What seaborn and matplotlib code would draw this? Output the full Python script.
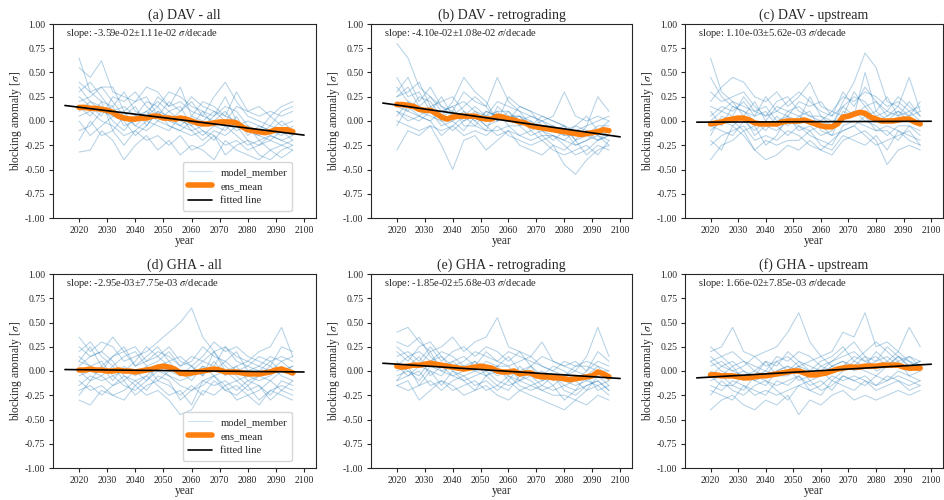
import numpy as np
import pandas as pd
import matplotlib
matplotlib.use("Agg")
import matplotlib.pyplot as plt
from matplotlib.lines import Line2D
import seaborn as sns

# ---------------------------------------------------------------------------
# Data
# ---------------------------------------------------------------------------
titles = ["(a) DAV - all", "(b) DAV - retrograding", "(c) DAV - upstream",
          "(d) GHA - all", "(e) GHA - retrograding", "(f) GHA - upstream"]

slopes = [-3.59e-02, -4.10e-02, 1.10e-03, -2.95e-03, -1.85e-02, 1.66e-02]
slope_errs = [1.11e-02, 1.08e-02, 5.62e-03, 7.75e-03, 5.68e-03, 7.85e-03]
fit_at_2015 = [0.160, 0.185, -0.012, 0.015, 0.080, -0.071]
fit_years = [2015, 2100]

member_years = list(range(2020, 2097, 4))
mean_years = list(range(2020, 2097, 2))

dav_all_mean = [.14, .14, .13, .13, .12, .11, .09, .05, .03, .02, .02, .03, .03, .05, .05, .03,
                .03, .02, .03, .02, .00, -.02, -.03, -.03, -.02, -.01, -.01, -.01, -.02, -.06,
                -.09, -.10, -.11, -.12, -.11, -.09, -.09, -.09, -.11]
dav_retro_mean = [.17, .17, .16, .15, .12, .11, .11, .08, .04, .02, .04, .05, .05, .05, .05, .03,
                  .02, .02, .05, .04, .02, .01, -.01, -.02, -.05, -.06, -.07, -.08, -.09, -.10,
                  -.11, -.12, -.13, -.14, -.13, -.12, -.11, -.09, -.10]
dav_up_mean = [-.03, -.02, -.01, .01, .02, .03, .03, .01, -.02, -.03, -.03, -.03, -.03, -.01, .00,
               .00, .00, .01, -.01, -.03, -.05, -.06, -.06, -.03, .04, .05, .07, .09, .08, .04,
               .02, .00, .00, .00, .01, .02, .02, -.01, -.03]
gha_all_mean = [.01, .01, .02, .01, .01, .00, .00, .01, .00, .00, -.01, .00, .01, .02, .04, .05,
                .04, .02, -.02, -.03, -.02, -.01, .00, .01, .02, .01, -.01, -.01, -.01, -.02,
                -.03, -.03, -.03, -.02, -.01, .01, .02, .00, -.02]
gha_retro_mean = [.05, .04, .05, .06, .06, .07, .08, .07, .06, .05, .04, .03, .02, .03, .04, .05,
                  .04, .03, .00, -.01, -.01, .00, -.03, -.02, -.02, -.05, -.06, -.06, -.07, -.07,
                  -.08, -.09, -.08, -.07, -.06, -.05, -.01, -.03, -.06]
gha_up_mean = [-.04, -.04, -.05, -.05, -.05, -.06, -.07, -.07, -.06, -.05, -.05, -.04, -.03, -.02,
               -.01, .00, .00, -.02, -.04, -.04, -.03, -.02, .00, .02, .03, .04, .04, .04, .05,
               .05, .05, .06, .06, .06, .06, .04, .03, .03, .03]

dav_all_members = [
    [.55, .45, .62, .30, .25, .20, .35, .30, .15, .20, .10, .05, .25, .40, .20, .05, .00, -.05, .10, .15],
    [-.32, -.30, -.10, -.20, -.40, -.25, -.15, -.30, -.20, -.35, -.25, -.30, -.40, -.20, -.30, -.35, -.40, -.30, -.38, -.30],
    [.30, .40, .25, .10, .15, .05, .20, .15, .30, .25, .15, .10, .05, .15, .10, -.05, -.10, .05, -.05, .00],
    [.05, .10, .00, -.05, -.15, -.10, .00, -.05, -.10, .05, -.10, -.20, -.10, -.15, -.05, -.20, -.25, -.15, -.20, -.25],
    [.20, .25, .35, .20, .05, .15, -.05, .10, .05, -.05, .05, .00, .10, .05, .00, -.10, -.15, -.20, -.10, -.15],
    [.65, .30, .20, .15, -.05, .00, .10, .20, .10, .00, -.05, .10, -.05, -.10, .05, -.15, -.05, -.10, -.15, -.05],
    [-.10, -.05, .10, .05, .10, -.05, -.10, .00, -.05, -.10, -.15, -.10, -.20, -.05, -.15, -.25, -.20, -.30, -.25, -.20],
    [.25, .15, .05, .25, .20, .30, .15, .05, .00, .10, .20, .05, .00, .10, -.05, .00, -.05, -.10, .00, -.10],
    [.10, .20, .15, .00, -.10, .05, .10, .00, .10, .15, -.05, -.15, -.05, .00, -.10, -.05, -.20, -.15, -.20, -.15],
    [.00, -.15, -.05, .05, .00, -.15, -.05, .10, -.05, -.10, .00, -.10, -.15, -.25, -.20, -.30, -.25, -.20, -.25, -.30],
    [.40, .30, .35, .35, .10, .20, .25, .05, .20, .10, .25, .15, .10, .00, .15, .10, .05, .10, .05, .10],
    [.15, .05, .20, -.10, .05, -.05, .05, .15, .00, -.05, -.10, -.05, .05, .25, .00, -.10, -.15, -.05, -.10, -.20],
    [-.20, .00, -.15, -.10, -.25, -.10, -.20, -.15, -.25, -.15, -.30, -.25, -.15, -.35, -.25, -.20, -.35, -.40, -.30, -.25],
    [.35, .20, .10, .15, .30, .10, .05, .25, .15, .35, .05, .20, .15, .05, .30, .10, .15, .05, .15, .20],
]
dav_retro_members = [
    [.80, .65, .35, .25, .10, .15, .20, .10, .05, .20, .15, .10, -.05, .05, .00, -.05, -.10, -.05, .00, .05],
    [-.30, -.10, -.15, -.05, -.25, -.50, -.20, -.15, -.30, -.20, -.10, -.25, -.30, -.35, -.25, -.45, -.55, -.40, -.30, -.25],
    [.30, .45, .20, .35, .15, .10, .30, .20, .15, .45, .20, .10, .05, .00, -.10, -.05, -.20, -.15, -.20, -.10],
    [.10, .05, .00, .10, -.05, .00, -.10, .05, -.05, -.15, -.10, -.15, -.20, -.15, -.25, -.30, -.20, -.35, -.25, -.30],
    [.25, .30, .40, .15, .20, .25, .10, .00, .10, .05, .00, .15, .10, -.05, -.05, -.15, -.05, -.10, -.15, -.20],
    [.05, .20, .10, .05, .00, -.10, .00, .10, .00, .10, -.05, -.05, -.15, -.10, -.20, -.10, -.25, -.20, -.10, -.15],
    [.15, .10, .25, .20, .05, .20, .45, .30, .20, .00, .10, .00, .05, .00, .05, .30, .05, .00, .05, .00],
    [.00, -.05, -.10, -.05, -.10, -.05, -.15, -.10, -.15, -.05, -.15, -.20, -.25, -.20, -.30, -.35, -.30, -.25, -.35, -.20],
    [.35, .20, .15, .25, .15, .05, .05, .15, .05, .10, .10, -.05, .00, -.10, -.15, -.20, -.10, -.15, -.05, -.05],
    [.20, .10, .05, .00, .10, .15, -.05, -.05, .10, .05, .00, .05, -.10, -.05, -.10, -.15, -.15, -.10, -.20, -.15],
    [-.05, .15, .05, .15, .00, .00, .10, .00, -.10, .15, .05, .05, .00, -.15, -.15, -.20, -.25, -.20, -.15, -.25],
    [.45, .25, .30, .10, .05, .10, .00, .05, -.05, .00, .25, .15, .10, .05, .00, -.05, -.20, -.05, .25, .10],
    [.10, .00, .05, .00, -.15, -.05, .05, -.05, -.10, -.10, -.05, -.15, -.10, -.20, -.15, -.25, -.35, -.30, -.20, -.15],
    [.25, .35, .15, .10, .25, .05, .15, .25, .15, .00, .05, .05, -.05, .00, -.05, -.10, -.05, .05, -.10, .00],
]
dav_up_members = [
    [.65, .30, .20, .15, .10, .05, .20, .25, .10, .05, .00, -.05, .20, .40, .70, .55, .20, .15, .45, .10],
    [-.40, -.25, -.20, -.10, -.30, -.40, -.35, -.25, -.30, -.20, -.30, -.35, -.20, -.15, -.10, -.20, -.45, -.30, -.25, -.30],
    [.20, .35, .45, .40, .25, .20, .30, .15, .25, .40, .15, .10, .25, .20, .30, .25, .15, .20, .10, .15],
    [-.10, .00, -.05, .05, -.15, -.05, -.10, .00, -.05, -.15, -.20, -.25, -.05, .00, -.05, -.10, -.05, -.10, -.15, -.20],
    [.05, .15, .10, .20, .05, .10, -.05, .10, .15, .05, .05, -.05, .15, .25, .20, .05, .10, .05, .20, .05],
    [-.25, -.15, -.10, -.05, -.20, -.15, -.20, -.10, -.15, -.25, -.30, -.20, -.10, -.05, -.15, -.25, -.20, -.15, -.10, -.25],
    [.10, -.05, .15, .10, .00, -.10, .05, -.05, .05, .10, -.10, -.15, .10, .05, .15, .00, .05, .10, .00, -.05],
    [-.15, .05, .00, -.10, -.05, -.25, -.15, .05, -.10, -.05, -.15, -.10, .05, .10, .00, -.05, -.15, -.05, -.05, -.10],
    [.30, .20, .25, .30, .15, .05, .10, .20, .30, .20, .10, .05, .30, .15, .35, .20, .10, .25, .15, .05],
    [-.05, -.10, -.15, .00, -.10, .00, -.05, -.15, -.05, -.10, -.05, -.15, -.10, -.05, .05, -.10, -.10, -.20, -.05, -.15],
    [.15, .10, .05, .25, .10, .15, .00, .05, .00, .25, .05, .00, .00, .10, .05, .10, .25, .05, .10, .00],
    [-.20, -.30, -.05, -.15, -.30, -.20, -.25, -.20, -.20, -.10, -.25, -.30, -.15, -.20, -.25, -.15, -.30, -.10, -.20, -.25],
    [.00, .10, .20, .05, .20, .00, .15, .10, .05, .00, .00, .10, .05, .30, .15, .20, .05, .15, .05, .10],
    [.45, .25, .15, .10, .05, .25, .10, .05, .20, .15, .20, .05, .15, .05, .50, .10, .00, .10, .05, .20],
]
gha_all_members = [
    [.35, .20, .30, .25, .10, .15, .20, .30, .40, .50, .65, .35, .20, .25, .15, .10, .20, .25, .45, .15],
    [-.30, -.35, -.20, -.25, -.30, -.15, -.25, -.20, -.30, -.45, -.40, -.20, -.25, -.15, -.30, -.25, -.35, -.20, -.25, -.30],
    [.10, .25, .05, .15, .20, .05, .10, .20, .15, .05, .10, .25, .15, .10, .00, .05, .15, .10, .00, .05],
    [-.15, -.05, -.10, -.05, -.15, -.20, -.10, .00, -.05, -.15, -.20, -.10, -.05, -.15, -.10, -.20, -.15, -.25, -.10, -.15],
    [.25, .15, .20, .35, .20, .25, .10, .15, .25, .10, .05, .15, .30, .20, .25, .15, .10, .05, .25, .20],
    [.00, -.10, .05, -.10, .05, -.05, .05, -.10, .00, -.05, .05, -.05, .10, -.05, .05, -.10, -.05, .05, -.05, -.10],
    [-.20, -.15, -.25, -.15, -.10, -.25, -.15, -.10, -.15, -.25, -.15, -.25, -.10, -.20, -.25, -.15, -.30, -.20, -.15, -.20],
    [.15, .05, .10, -.05, .00, .10, .25, .15, .05, .00, -.10, .05, .00, .10, .20, .00, .05, .15, .10, .00],
    [.05, .15, .20, .10, -.05, -.10, -.05, .05, .10, .15, .05, -.05, .20, .05, -.05, -.15, -.05, -.10, .00, .05],
    [-.10, -.20, -.15, -.25, -.20, -.10, -.20, -.05, -.10, -.30, -.20, -.15, -.05, -.20, -.15, -.25, -.20, -.10, -.20, -.25],
    [.20, .30, .15, .05, .15, .20, .05, .10, .20, .05, .15, .10, .05, .25, .10, .05, .00, .10, .15, .10],
    [-.05, .00, -.05, .05, -.10, .00, -.10, .05, -.05, -.10, -.05, .05, -.05, .00, -.10, -.05, -.10, -.05, .05, -.05],
    [.10, .05, .00, .15, .25, .05, .15, .25, .10, -.05, .00, .10, .20, .00, .05, .10, .05, .00, .10, .15],
    [-.25, -.10, -.05, -.15, -.05, -.15, -.05, -.15, -.25, -.20, -.35, -.10, -.15, -.10, -.20, -.10, -.15, -.30, -.20, -.10],
]
gha_retro_members = [
    [.40, .45, .30, .20, .25, .35, .20, .30, .35, .55, .25, .20, .15, .30, .10, .05, .00, .15, .45, .15],
    [-.15, -.10, -.30, -.20, -.10, -.15, -.25, -.20, -.15, -.25, -.30, -.20, -.25, -.30, -.35, -.40, -.30, -.35, -.25, -.30],
    [.20, .10, .25, .30, .15, .05, .10, .20, .15, .10, .05, .10, .15, .05, .00, -.05, .05, .10, .05, .00],
    [-.05, .00, -.10, .05, .00, -.05, -.10, -.05, .00, -.10, -.15, -.10, -.05, -.15, -.20, -.15, -.20, -.15, -.10, -.20],
    [.25, .15, .20, .10, .20, .15, .05, .00, .10, .05, .15, .00, .05, -.05, .05, .00, -.10, .00, .10, .05],
    [.05, -.05, .05, .00, -.05, .10, .00, .10, -.05, .00, -.05, -.10, -.15, -.10, -.05, -.15, -.10, -.20, -.05, -.15],
    [-.15, -.20, -.15, -.10, -.20, -.10, -.05, -.15, -.10, -.20, -.10, -.20, -.15, -.20, -.25, -.25, -.30, -.20, -.15, -.25],
    [.15, .20, .10, .25, .10, .20, .25, .15, .25, .20, .10, .20, .05, .15, .10, .05, .10, .00, .20, .10],
    [.00, .05, .15, -.05, .05, -.05, .00, .05, .05, -.05, .00, -.05, .05, -.10, -.05, -.10, -.15, -.10, .00, -.05],
    [.10, .00, -.05, .10, .15, .00, -.05, .00, -.05, .05, .05, -.10, .00, -.05, -.15, -.05, -.05, -.10, -.15, -.10],
    [.30, .25, .35, .15, .05, .10, .15, .05, .20, .10, .20, .15, .10, .05, .00, .10, .05, .05, .00, .00],
    [-.10, -.05, .00, -.15, -.10, -.20, -.15, -.10, -.20, -.15, -.20, -.05, -.10, -.20, -.15, -.30, -.20, -.05, -.20, -.15],
    [.05, .15, .05, .20, .00, .05, .05, .10, .00, .05, -.10, .05, -.05, .00, -.10, -.05, .00, -.05, .05, -.10],
    [-.10, .05, -.15, .00, -.15, .00, -.10, -.20, -.05, -.15, -.05, -.15, -.20, -.15, -.05, -.20, -.25, -.15, -.10, -.20],
]
gha_up_members = [
    [.20, .25, .45, .20, .15, .20, .25, .40, .60, .30, .15, .20, .40, .35, .60, .25, .30, .20, .45, .25],
    [-.40, -.30, -.25, -.35, -.40, -.30, -.35, -.25, -.45, -.30, -.35, -.25, -.20, -.30, -.25, -.30, -.25, -.20, -.25, -.20],
    [.05, .10, .00, .05, .15, .05, .10, .00, .10, .05, .00, .10, .15, .20, .10, .15, .05, .15, .05, .10],
    [-.15, -.20, -.10, -.15, -.20, -.25, -.10, -.15, -.05, -.20, -.15, -.05, -.10, -.05, -.10, -.15, -.05, -.10, -.15, -.10],
    [.15, .05, .10, .00, -.05, .10, .05, .20, .10, .00, .10, .15, .25, .10, .20, .30, .20, .10, .15, .05],
    [-.25, -.10, -.20, -.25, -.15, -.10, -.20, -.30, -.15, -.10, -.20, -.15, -.05, -.10, -.15, -.05, -.10, -.05, -.10, -.15],
    [.00, -.05, .05, -.10, -.05, .00, -.05, -.05, .05, -.10, -.05, .05, .10, .00, .05, .10, .15, .05, .00, .05],
    [-.05, -.15, -.15, -.05, -.10, -.15, .00, .05, -.10, -.05, .00, -.10, .00, .05, .00, -.05, .05, .10, -.05, .00],
    [.25, .15, .20, .10, .05, .00, .15, .10, .20, .15, .05, .10, .20, .30, .15, .10, .25, .15, .05, .10],
    [-.10, -.05, -.15, -.20, -.05, -.10, -.15, -.10, -.05, -.15, -.10, -.20, -.05, -.10, -.05, -.15, -.10, .00, -.05, -.10],
    [.10, .00, -.05, .00, -.10, -.05, .00, .05, .00, -.05, .05, .00, .05, .15, .10, .05, .10, .20, .10, .00],
    [-.20, -.25, -.30, -.15, -.25, -.20, -.25, -.20, -.15, -.20, -.25, -.10, -.15, -.20, -.10, -.20, -.15, -.10, -.20, -.15],
    [-.05, .05, .00, -.05, .00, .10, -.05, .00, .05, .00, -.05, .05, .10, .05, .15, .00, .05, .15, .10, .05],
    [.10, .15, .05, .10, .00, -.05, .10, .15, .05, .10, .15, .05, .00, .10, .05, .20, .10, .05, .15, .10],
]

members_all = [dav_all_members, dav_retro_members, dav_up_members,
               gha_all_members, gha_retro_members, gha_up_members]
means_all = [dav_all_mean, dav_retro_mean, dav_up_mean,
             gha_all_mean, gha_retro_mean, gha_up_mean]
legend_panels = [0, 3]

# ---------------------------------------------------------------------------
# Style
# ---------------------------------------------------------------------------
sns.set_style("ticks")
plt.rcParams["font.family"] = ["Liberation Serif", "DejaVu Serif"]
plt.rcParams["mathtext.fontset"] = "stix"
plt.rcParams["axes.edgecolor"] = "0.15"
plt.rcParams["xtick.color"] = "0.15"
plt.rcParams["ytick.color"] = "0.15"

member_color = "#1f77b4"
mean_color = "#ff7f0e"

fig = plt.figure(figsize=(9.44, 5.0), dpi=100)
lefts = [53 / 944, 371 / 944, 685 / 944]
widths = [263 / 944, 261 / 944, 258 / 944]
bottoms = [1 - 218 / 500, 1 - 468 / 500]
height = 194 / 500

for i in range(6):
    row, col = divmod(i, 3)
    ax = fig.add_axes([lefts[col], bottoms[row], widths[col], height])

    long = pd.DataFrame(
        [(m, yr, v) for m, series in enumerate(members_all[i])
         for yr, v in zip(member_years, series)],
        columns=["member", "year", "value"])
    sns.lineplot(data=long, x="year", y="value", units="member", estimator=None,
                 color=member_color, alpha=0.33, lw=0.75, ax=ax)

    mean_df = pd.DataFrame({"year": mean_years, "value": means_all[i]})
    sns.lineplot(data=mean_df, x="year", y="value", color=mean_color, lw=4, ax=ax)

    fit_df = pd.DataFrame({
        "year": fit_years,
        "value": [fit_at_2015[i] + slopes[i] * (yr - 2015) / 10 for yr in fit_years]})
    sns.lineplot(data=fit_df, x="year", y="value", color="black", lw=1.2, ax=ax)

    ax.set_ylim(-1.0, 1.0)
    ax.set_yticks(np.arange(-1.0, 1.01, 0.25))
    ax.set_xticks(np.arange(2020, 2101, 10))
    ax.yaxis.set_major_formatter(matplotlib.ticker.FormatStrFormatter("%.2f"))
    ax.tick_params(labelsize=7, length=3, width=0.8, pad=2.5)
    for s in ax.spines.values():
        s.set_linewidth(0.8)
    ax.set_xlabel("year", fontsize=8.3, labelpad=0)
    ax.set_ylabel(r"blocking anomaly [$\sigma$]", fontsize=8.3, labelpad=1)
    ax.set_title(titles[i], fontsize=10, pad=4)
    ax.text(0.05, 0.985,
            f"slope: {slopes[i]:.2e}\u00b1{slope_errs[i]:.2e} $\\sigma$/decade",
            transform=ax.transAxes, ha="left", va="top", fontsize=7.6)

    if i in legend_panels:
        handles = [Line2D([], [], color=member_color, alpha=0.22, lw=0.8),
                   Line2D([], [], color=mean_color, lw=4),
                   Line2D([], [], color="black", lw=1.2)]
        ax.legend(handles, ["model_member", "ens_mean", "fitted line"],
                  loc="lower right", bbox_to_anchor=(0.93, 0.01), fontsize=7.7,
                  frameon=True, framealpha=0.8, edgecolor="0.8", fancybox=True,
                  handlelength=2.2, borderpad=0.5, labelspacing=0.45)

fig.savefig("out.png", dpi=100)
